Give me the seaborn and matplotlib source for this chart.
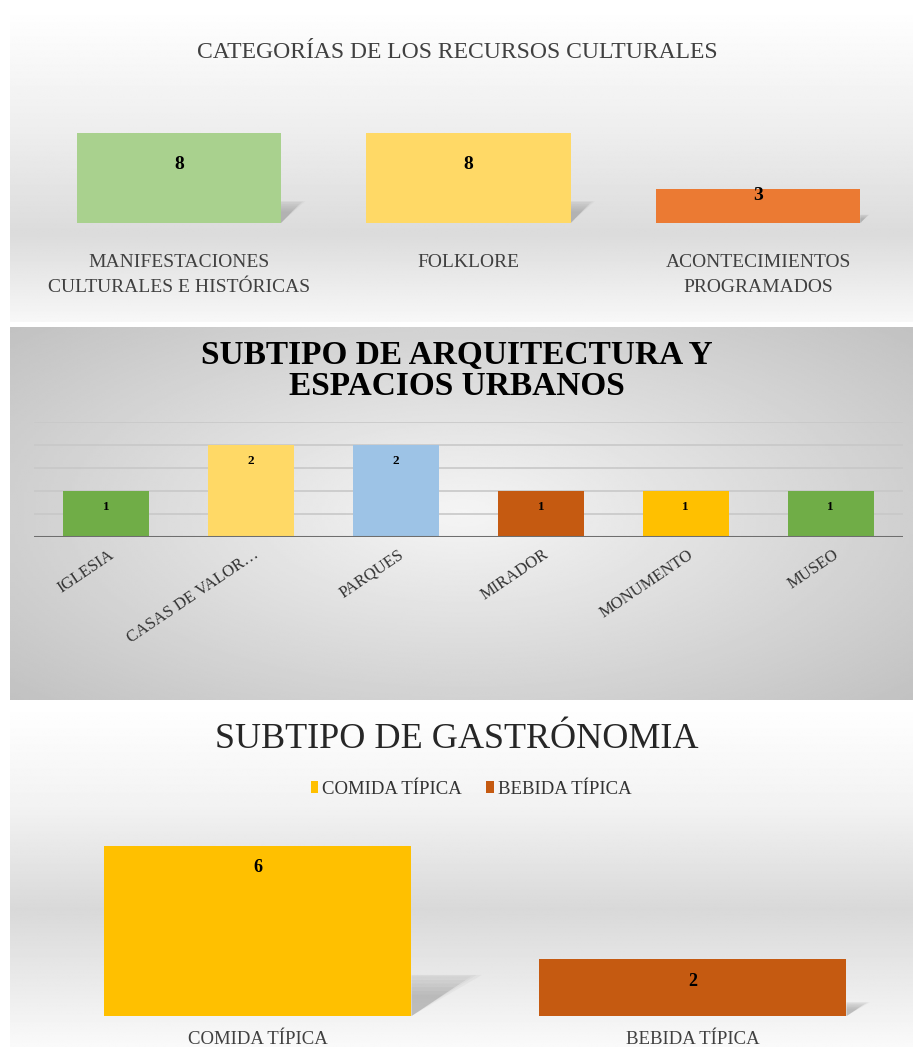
import numpy as np
import pandas as pd
import seaborn as sns
import matplotlib.pyplot as plt
from matplotlib.patches import Polygon
from matplotlib.transforms import ScaledTranslation

# datos de los tres graficos
cat_labels = ['MANIFESTACIONES\nCULTURALES E HISTÓRICAS', 'FOLKLORE', 'ACONTECIMIENTOS\nPROGRAMADOS']
cat_values = [8, 8, 3]
cat_colors = ['#A9D18E', '#FFD966', '#EB7A33']

arq_labels = ['IGLESIA', 'CASAS DE VALOR…', 'PARQUES', 'MIRADOR', 'MONUMENTO', 'MUSEO']
arq_values = [1, 2, 2, 1, 1, 1]
arq_colors = ['#70AD47', '#FFD966', '#9DC3E6', '#C55A11', '#FFC000', '#70AD47']

gas_labels = ['COMIDA TÍPICA', 'BEBIDA TÍPICA']
gas_values = [6, 2]
gas_colors = ['#FFC000', '#C55A11']

sns.set_theme(style='white')
plt.rcParams['font.family'] = ['Liberation Serif', 'DejaVu Serif']

W, H = 913, 1047
fig = plt.figure(figsize=(W / 100, H / 100), dpi=100)
fig.patch.set_facecolor('white')


def rect(x0, y0, x1, y1):
    return [x0 / W, 1 - y1 / H, (x1 - x0) / W, (y1 - y0) / H]


def fondo(box, img):
    a = fig.add_axes(rect(*box), zorder=-5)
    a.imshow(img, cmap='gray', vmin=0, vmax=1, aspect='auto', interpolation='bilinear')
    a.axis('off')


def degradado(stops, n=300):
    t = np.linspace(0, 1, n)
    col = np.interp(t, [s[0] for s in stops], [s[1] for s in stops])
    return np.tile(col[:, None], (1, 50))


# fondos de cada panel
fondo((10, 8, 913, 322), degradado([(0, 1.0), (0.4, 0.93), (0.72, 0.86), (1, 0.97)]))
yy, xx = np.mgrid[0:1:300j, 0:1:300j]
d = np.sqrt(((xx - 0.5) / 0.75) ** 2 + ((yy - 0.5) / 0.8) ** 2)
fondo((10, 327, 913, 700), np.clip(0.96 - 0.22 * d, 0, 1))
fondo((10, 703, 913, 1047), degradado([(0, 1.0), (0.3, 0.95), (0.6, 0.85), (0.85, 0.93), (1, 0.98)]))


def sombra(ax, k, frac=0.23):
    # sombra difusa detras de cada barra
    ymax = ax.get_ylim()[1]
    for p in ax.patches[:]:
        x1 = p.get_x() + p.get_width()
        h = p.get_height()
        dx = k * h / ymax
        for s in np.linspace(0.55, 1.2, 8):
            pts = [(x1, h * frac * min(s, 1.05)), (x1 + dx * s, h * frac * min(s, 1.05)),
                   (x1, 0)]
            ax.add_patch(Polygon(pts, closed=True, color='#808080', alpha=0.07, lw=0, zorder=1))


def etiquetas(ax, vals, offsets, size):
    for p, v, off in zip(ax.patches, vals, offsets):
        ax.annotate(str(v), (p.get_x() + p.get_width() / 2, p.get_height()),
                    xytext=(0, -off * 0.72), textcoords='offset points',
                    ha='center', va='center', fontsize=size, fontweight='bold', color='black')


# ---- panel 1
ax1 = fig.add_axes(rect(34, 133, 903, 223))
sns.barplot(x=cat_labels, y=cat_values, hue=cat_labels, palette=cat_colors,
            saturation=1, width=0.705, legend=False, ax=ax1, zorder=2,
            edgecolor='none', linewidth=0)
ax1.patch.set_alpha(0)
ax1.set_ylim(0, 8)
ax1.set_xlim(-0.5, 2.5)
ax1.set_yticks([])
ax1.set_xlabel('')
ax1.set_ylabel('')
sns.despine(ax=ax1, left=True, bottom=True)
ax1.tick_params(axis='x', length=0, pad=22, labelsize=14, labelcolor='#404040')
for t in ax1.get_xticklabels():
    t.set_linespacing(1.66)
etiquetas(ax1, cat_values, [32, 32, 6], 14)
sombra(ax1, 0.07)
fig.text(457 / W, 1 - 52 / H, 'CATEGORÍAS DE LOS RECURSOS CULTURALES',
         ha='center', va='center', fontsize=17, color='#404040')

# ---- panel 2
ax2 = fig.add_axes(rect(34, 422, 903, 537))
sns.barplot(x=arq_labels, y=arq_values, hue=arq_labels, palette=arq_colors,
            saturation=1, width=0.594, legend=False, ax=ax2, zorder=2,
            edgecolor='none', linewidth=0)
ax2.patch.set_alpha(0)
ax2.set_ylim(0, 2.5)
ax2.set_xlim(-0.5, 5.5)
ax2.set_yticks([0.5, 1, 1.5, 2, 2.5])
ax2.set_yticklabels([])
ax2.grid(axis='y', color='#c8c8c8', lw=1.2)
ax2.set_axisbelow(True)
ax2.set_xlabel('')
ax2.set_ylabel('')
sns.despine(ax=ax2, left=True, bottom=True)
ax2.axhline(0, color='#6e6e6e', lw=2.2, zorder=3)
ax2.tick_params(axis='x', length=0, pad=7, labelsize=12, labelcolor='#333333')
ax2.tick_params(axis='y', length=0)
off = ScaledTranslation(2 / 100, 0, fig.dpi_scale_trans)
for t in ax2.get_xticklabels():
    t.set_rotation(34)
    t.set_ha('right')
    t.set_va('top')
    t.set_rotation_mode('anchor')
    t.set_transform(t.get_transform() + off)
etiquetas(ax2, arq_values, [16] * 6, 9.5)
fig.text(457 / W, 1 - 371 / H, 'SUBTIPO DE ARQUITECTURA Y\nESPACIOS URBANOS',
         ha='center', va='center', fontsize=24, fontweight='bold', color='black',
         linespacing=1.02)

# ---- panel 3
ax3 = fig.add_axes(rect(40, 846, 910, 1016))
sns.barplot(x=gas_labels, y=gas_values, hue=gas_labels, palette=gas_colors,
            saturation=1, width=0.708, legend=True, ax=ax3, zorder=2,
            edgecolor='none', linewidth=0)
ax3.patch.set_alpha(0)
ax3.set_ylim(0, 6)
ax3.set_xlim(-0.5, 1.5)
ax3.set_yticks([])
ax3.set_xlabel('')
ax3.set_ylabel('')
sns.despine(ax=ax3, left=True, bottom=True)
ax3.tick_params(axis='x', length=0, pad=11, labelsize=13.5, labelcolor='#404040')
etiquetas(ax3, gas_values, [22, 22], 13)
h, l = ax3.get_legend_handles_labels()
ax3.get_legend().remove()
sombra(ax3, 0.135)
fig.legend(h, l, loc='center', bbox_to_anchor=(471 / W, 1 - 789 / H), ncol=2,
           frameon=False, fontsize=13.5, handlelength=0.42, handleheight=0.6,
           handletextpad=0.2, columnspacing=1.3, labelcolor='#333333')
fig.text(457 / W, 1 - 740 / H, 'SUBTIPO DE GASTRÓNOMIA',
         ha='center', va='center', fontsize=26, color='#262626')

fig.savefig('out.png', dpi=100)
